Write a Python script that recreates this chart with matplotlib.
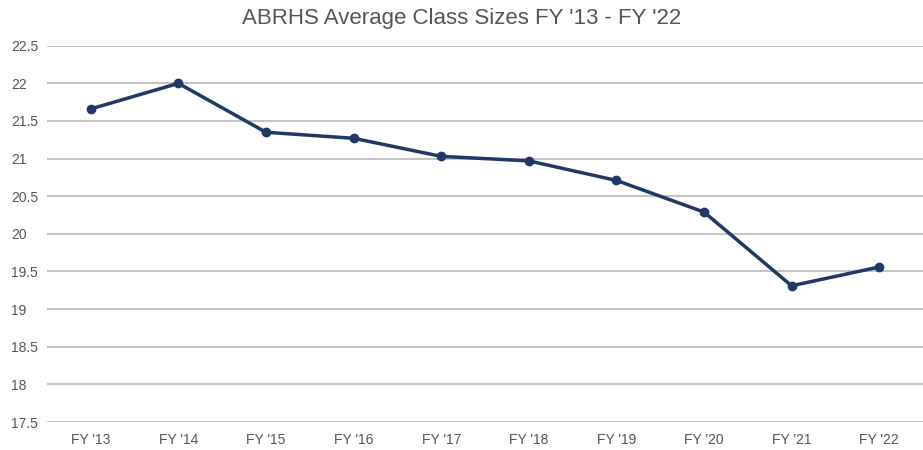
import matplotlib.pyplot as plt
from matplotlib.ticker import FuncFormatter

plt.rcParams["font.family"] = ["Liberation Sans", "DejaVu Sans"]

years = ["FY '13", "FY '14", "FY '15", "FY '16", "FY '17",
         "FY '18", "FY '19", "FY '20", "FY '21", "FY '22"]
class_sizes = [21.66, 22.0, 21.35, 21.27, 21.03, 20.97, 20.71, 20.29, 19.31, 19.56]
y_ticks = [17.5, 18, 18.5, 19, 19.5, 20, 20.5, 21, 21.5, 22, 22.5]

line_color = "#1f3864"
grid_color = "#c4c4c4"
text_color = "#555555"

fig = plt.figure(figsize=(9.23, 4.5), dpi=100)
ax = fig.add_axes([0.0509, 0.0622, 0.9491, 0.8362])

x = list(range(len(years)))
ax.plot(x, class_sizes, color=line_color, linewidth=2.5, marker="o",
        markersize=6, zorder=3)

ax.set_xlim(-0.5, len(years) - 0.5)
ax.set_ylim(17.5, 22.5)
ax.set_yticks(y_ticks)
ax.yaxis.set_major_formatter(FuncFormatter(lambda v, p: f"{v:g}"))
ax.set_xticks(x)
ax.set_xticklabels(years)

ax.grid(axis="y", color=grid_color, linewidth=1.5)
ax.set_axisbelow(True)
for s in ax.spines.values():
    s.set_visible(False)

ax.tick_params(axis="both", length=0, labelsize=10, labelcolor=text_color)
ax.tick_params(axis="y", pad=26)
ax.tick_params(axis="x", pad=8)
for lbl in ax.get_yticklabels():
    lbl.set_horizontalalignment("left")

fig.text(0.5, 0.958, "ABRHS Average Class Sizes FY '13 - FY '22",
         ha="center", va="center", fontsize=16, color="#555555")

fig.savefig("out.png", dpi=100)
